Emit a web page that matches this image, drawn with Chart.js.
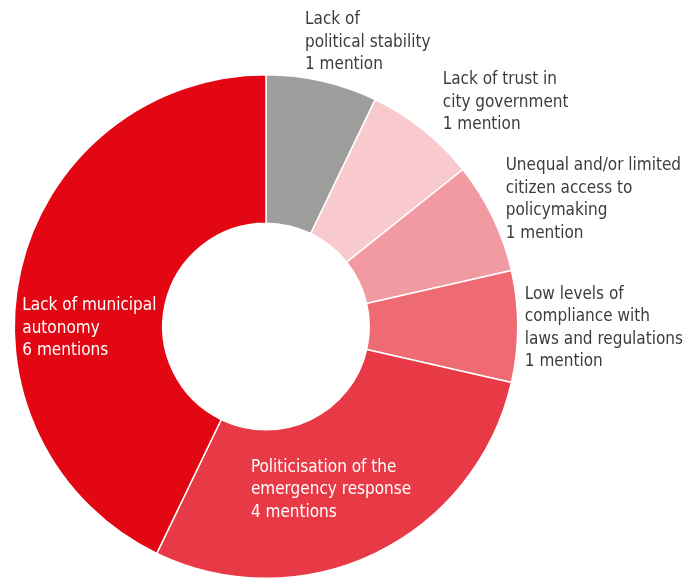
<!DOCTYPE html>
<html>
<head>
<meta charset="utf-8">
<script src="https://cdn.jsdelivr.net/npm/chart.js@4"></script>
<style>
  html, body { margin: 0; padding: 0; background: #fff; }
  #wrap { width: 696px; height: 579px; position: relative; }
</style>
</head>
<body>
<div id="wrap"><canvas id="chart"></canvas></div>
<script>
const labels = [
  ['Lack of', 'political stability'],
  ['Lack of trust in', 'city government'],
  ['Unequal and/or limited', 'citizen access to', 'policymaking'],
  ['Low levels of', 'compliance with', 'laws and regulations'],
  ['Politicisation of the', 'emergency response'],
  ['Lack of municipal', 'autonomy']
];
const mentions = [1, 1, 1, 1, 4, 6];
const colors = ['#9d9d9c', '#f8cace', '#f29aa1', '#ee6b73', '#e83a46', '#e30613'];

// label anchor, in units of outer radius from the centre (left edge, first line)
const labelPos = [
  [0.155, -1.218], [0.702, -0.980], [0.952, -0.639],
  [1.028, -0.127], [-0.060, 0.560], [-0.968, -0.083]
];
const labelInside = [false, false, false, false, true, true];

const sliceLabels = {
  id: 'sliceLabels',
  afterDatasetsDraw(chart){
    const ctx = chart.ctx;
    const arcs = chart.getDatasetMeta(0).data;
    ctx.save();
    ctx.font = '17px "DejaVu Sans Condensed", "DejaVu Sans", sans-serif';
    ctx.textBaseline = 'middle';
    ctx.textAlign = 'left';
    arcs.forEach((arc, i) => {
      const r = arc.outerRadius;
      const x = arc.x + labelPos[i][0] * r;
      let y = arc.y + labelPos[i][1] * r;
      const n = mentions[i];
      const lines = labels[i].concat(n + (n === 1 ? ' mention' : ' mentions'));
      ctx.fillStyle = labelInside[i] ? '#ffffff' : '#3c3c3b';
      lines.forEach(t => { ctx.fillText(t, x, y); y += 22.5; });
    });
    ctx.restore();
  }
};

new Chart(document.getElementById('chart'), {
  type: 'doughnut',
  data: {
    labels: labels.map(l => l.join(' ')),
    datasets: [{
      data: mentions,
      backgroundColor: colors,
      borderColor: '#ffffff',
      borderWidth: 1.5
    }]
  },
  options: {
    responsive: true,
    maintainAspectRatio: false,
    animation: false,
    cutout: '41%',
    layout: { padding: { left: 13, right: 177, top: 74, bottom: 0 } },
    plugins: {
      legend: { display: false },
      tooltip: { enabled: false }
    }
  },
  plugins: [sliceLabels]
});
</script>
</body>
</html>
